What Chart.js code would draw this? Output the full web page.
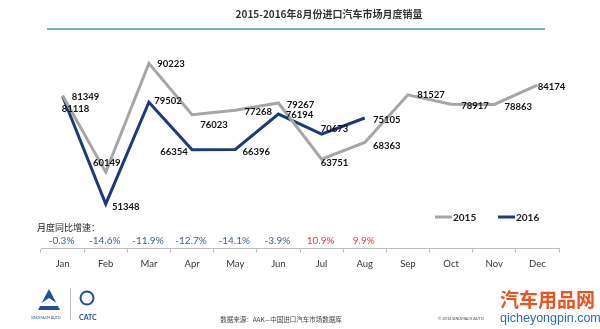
<!DOCTYPE html>
<html>
<head>
<meta charset="utf-8">
<script src="https://cdn.jsdelivr.net/npm/chart.js@4/dist/chart.umd.min.js"></script>
<style>
  html, body { margin: 0; padding: 0; background: #fff; }
  #wrap { width: 600px; height: 329px; position: relative; }
</style>
</head>
<body>
<div id="wrap"><canvas id="sales" width="600" height="329"></canvas></div>
<script>
const months = ['Jan', 'Feb', 'Mar', 'Apr', 'May', 'Jun', 'Jul', 'Aug', 'Sep', 'Oct', 'Nov', 'Dec']
const sales2015 = [81349, 60149, 90223, 76023, 77268, 79267, 63751, 68363, 81527, 78917, 78863, 84174]
const sales2016 = [81118, 51348, 79502, 66354, 66396, 76194, 70673, 75105]
const growth = ['-0.3%', '-14.6%', '-11.9%', '-12.7%', '-14.1%', '-3.9%', '10.9%', '9.9%']

// label offsets (dx, dy) from each point, picked by eye
const offs2015 = [[23, 1], [1, -9], [22, 1], [22, 10], [23, 2], [22, 2], [13, 4], [22, 4], [23, 0], [24, 2], [24, 2], [14, 2]]
const offs2016 = [[13, 13], [20, 3], [19, -1], [-18, 2], [21, 2], [21, 1], [13, -5], [22, 2]]

const grey = '#a6a6a6'
const navy = '#1f3a78'

const extras = {
    id: 'extras',
    afterDatasetsDraw(chart) {
        const ctx = chart.ctx
        const x = chart.scales.x
        ctx.save()

        // title + rule
        ctx.fillStyle = '#333'
        ctx.font = 'bold 10px "Noto Sans CJK SC"'
        ctx.textAlign = 'center'
        ctx.textBaseline = 'middle'
        ctx.fillText('2015-2016年8月份进口汽车市场月度销量', 329, 14)
        ctx.fillStyle = '#74b6b8'
        ctx.fillRect(47, 28, 498, 2)

        // value labels
        ctx.font = 'bold 9.5px Lato'
        ctx.fillStyle = '#111'
        const sets = [offs2015, offs2016]
        chart.data.datasets.forEach((ds, i) => {
            chart.getDatasetMeta(i).data.forEach((pt, j) => {
                const o = sets[i][j]
                ctx.fillText(ds.data[j], pt.x + o[0], pt.y + o[1])
            })
        })

        // legend
        ctx.font = 'bold 10px Lato'
        ctx.textAlign = 'left'
        chart.data.datasets.forEach((ds, i) => {
            const lx = 435 + i * 63
            ctx.strokeStyle = ds.borderColor
            ctx.lineWidth = 3
            ctx.beginPath()
            ctx.moveTo(lx, 217)
            ctx.lineTo(lx + 17, 217)
            ctx.stroke()
            ctx.fillStyle = '#222'
            ctx.fillText(ds.label, lx + 18, 218)
        })

        // growth row
        ctx.font = '9px "Noto Sans CJK SC"'
        ctx.fillStyle = '#222'
        ctx.fillText('月度同比增速：', 37, 228)
        ctx.font = '10px Lato'
        ctx.textAlign = 'center'
        growth.forEach((g, j) => {
            ctx.fillStyle = g.startsWith('-') ? '#3d5f95' : '#e8383d'
            ctx.fillText(g, x.getPixelForValue(j) - 1, 241)
        })

        // footer
        ctx.font = '6.5px "Noto Sans CJK SC"'
        ctx.fillStyle = '#444'
        ctx.fillText('数据来源：AAK—中国进口汽车市场数据库', 281, 320)
        ctx.font = 'italic 4px Lato'
        ctx.textAlign = 'left'
        ctx.fillText('© 2016 SINOMACH AUTO', 438, 319)

        // logos
        ctx.fillStyle = '#1f4e9a'
        ctx.beginPath()
        ctx.moveTo(38, 310)
        ctx.lineTo(49, 289)
        ctx.lineTo(60, 310)
        ctx.closePath()
        ctx.fill()
        ctx.fillStyle = '#fff'
        ctx.beginPath()
        ctx.moveTo(40, 304)
        ctx.lineTo(49, 298)
        ctx.lineTo(58, 304)
        ctx.lineTo(58, 306)
        ctx.lineTo(40, 306)
        ctx.fill()
        ctx.fillStyle = '#1f4e9a'
        ctx.font = '3.5px Lato'
        ctx.fillText('SINOMACH AUTO', 31, 318)
        ctx.strokeStyle = '#bbb'
        ctx.lineWidth = 1
        ctx.beginPath()
        ctx.moveTo(70.5, 288)
        ctx.lineTo(70.5, 320)
        ctx.stroke()
        ctx.strokeStyle = '#1f4e9a'
        ctx.lineWidth = 2
        ctx.beginPath()
        ctx.arc(87, 298, 6.5, 0, Math.PI * 2)
        ctx.stroke()
        ctx.font = 'bold 7px Lato'
        ctx.fillText('CATC', 79, 318)

        // watermark
        ctx.fillStyle = '#e9531d'
        ctx.font = 'bold 19px "Noto Sans CJK SC"'
        ctx.fillText('汽车用品网', 500, 300)
        ctx.fillStyle = '#2a6db5'
        ctx.font = '12.5px "Liberation Sans"'
        ctx.fillText('qicheyongpin.com', 500, 319)

        ctx.restore()
    }
}

new Chart(document.getElementById('sales'), {
    type: 'line',
    data: {
        labels: months,
        datasets: [
            { label: '2015', data: sales2015, borderColor: grey, borderWidth: 3 },
            { label: '2016', data: sales2016, borderColor: navy, borderWidth: 3 }
        ]
    },
    options: {
        responsive: false,
        animation: false,
        elements: { point: { radius: 0 }, line: { tension: 0, borderJoinStyle: 'miter' } },
        layout: { padding: { top: 28, left: 41, right: 41, bottom: 53 } },
        plugins: { legend: { display: false }, tooltip: { enabled: false } },
        scales: {
            x: {
                offset: true,
                grid: { offset: true, drawOnChartArea: false, tickLength: 4, color: '#bdbdbd' },
                border: { color: '#bdbdbd' },
                ticks: { color: '#333', font: { family: 'Lato', size: 9.5 }, padding: 6, maxRotation: 0, autoSkip: false }
            },
            y: { display: false, min: 39000, max: 100000 }
        }
    },
    plugins: [extras]
})
</script>
</body>
</html>
